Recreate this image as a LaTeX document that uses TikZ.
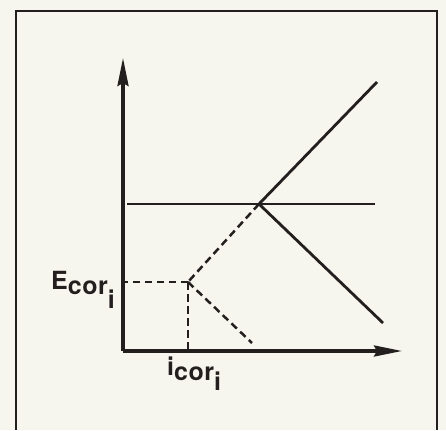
\documentclass[tikz,border=0pt]{standalone}
\usepackage{fontspec}
\setmainfont{TeX Gyre Heros}
\usetikzlibrary{arrows.meta}

\definecolor{paper}{RGB}{246,245,238}
\definecolor{ink}{RGB}{35,31,30}

\tikzset{
  axis/.style={line width=3.2pt, draw=ink, -{Stealth[length=28pt,width=11pt,inset=3pt]}},
  branch/.style={line width=2.8pt, draw=ink},
  level/.style={line width=2.1pt, draw=ink},
  guide/.style={line width=2.5pt, draw=ink, dash pattern=on 7.5pt off 4.5pt},
  lbl/.style={font=\fontsize{25}{25}\selectfont\bfseries\addfontfeature{LetterSpace=2},
    text=ink, inner sep=0pt, anchor=base west},
}

\begin{document}
\begin{tikzpicture}[x=1pt,y=-1pt]
		\useasboundingbox[fill=paper] (0,0) rectangle (446,430);
		\draw[line width=1.7pt, ink] (16,430) -- (16,11) -- (437,11) -- (437,430);

		\coordinate (O) at (123,351);
		\coordinate (ytop) at (123,58);
		\coordinate (xend) at (402,351);
		\coordinate (hl) at (127,204);
		\coordinate (hr) at (375,204);
		\coordinate (P) at (259,204);
		\coordinate (up) at (377,82);
		\coordinate (down) at (383,323);
		\coordinate (C) at (188,282);
		\coordinate (low) at (252,343);

		\draw[axis] (O) -- (ytop);
		\draw[axis] (O) -- (xend);
		\draw[level] (hl) -- (hr);
		\draw[branch] (P) -- (up);
		\draw[branch] (P) -- (down);
		\draw[guide] (P) -- (C);
		\draw[guide] (C) -- (C -| O);
		\draw[guide] (C) -- (C |- O);
		\draw[guide] (C) -- (low);

		\node[lbl] (ecor) at (51,289) {E\raisebox{-5pt}{cor\raisebox{-14pt}{i}}};
		\node[lbl] (icor) at (167,375) {i\raisebox{-5pt}{cor\raisebox{-10pt}{i}}};
	\end{tikzpicture}
\end{document}
